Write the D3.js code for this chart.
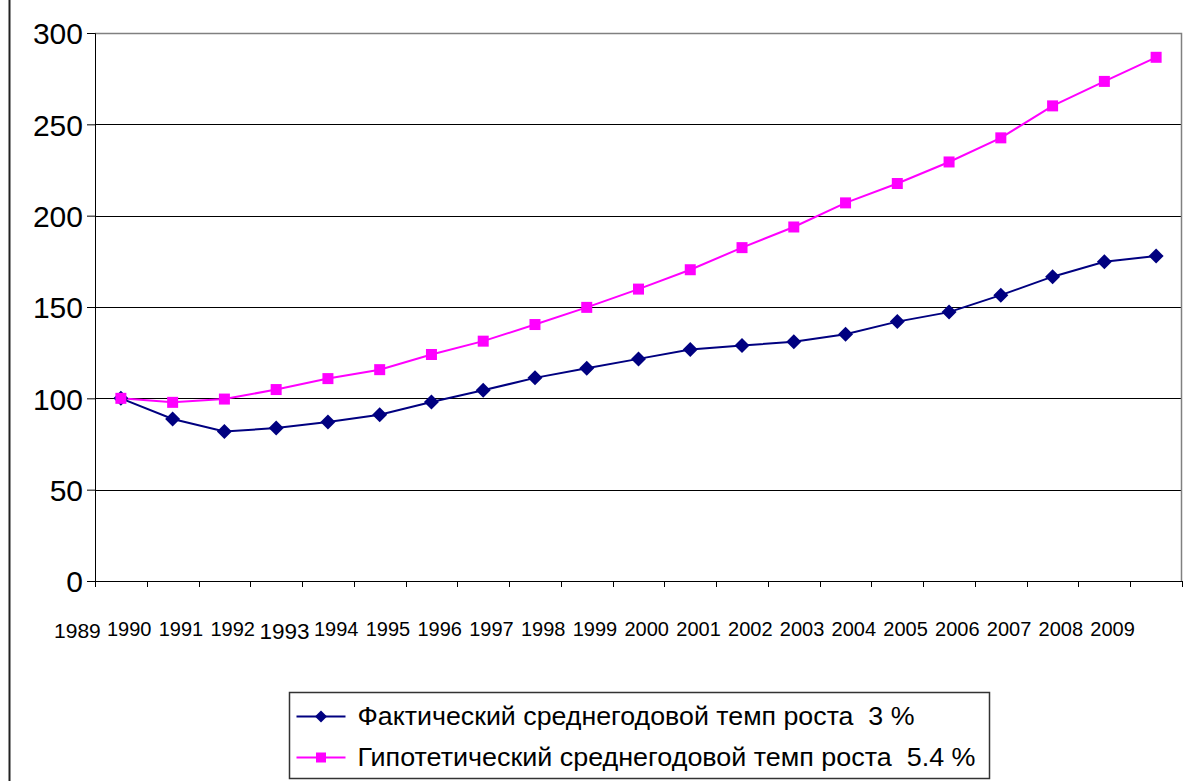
<!DOCTYPE html>
<html>
<head>
<meta charset="utf-8">
<script src="https://cdn.jsdelivr.net/npm/d3@7"></script>
<style>
  body { margin: 0; background: #fff; }
  svg { display: block; font-family: Arial, "Liberation Sans", sans-serif; }
</style>
</head>
<body>
<div id="chart"></div>
<script>
// data
var years = ["1989", "1990", "1991", "1992", "1993", "1994", "1995", "1996", "1997", "1998", "1999",
             "2000", "2001", "2002", "2003", "2004", "2005", "2006", "2007", "2008", "2009"];
var factual = [100, 88.7, 81.9, 83.7, 87, 91, 98, 104.4, 111.2, 116.5, 121.6,
               126.7, 128.9, 131, 135.1, 142, 147.2, 156.5, 166.6, 174.8, 177.9];
var hypothetical = [100, 97.8, 99.6, 104.8, 110.8, 115.7, 124, 131.3, 140.4, 149.8, 159.8,
                    170.4, 182.5, 193.8, 207, 217.6, 229.4, 242.6, 260.1, 273.5, 286.7];
var yTicks = [0, 50, 100, 150, 200, 250, 300];
var seriesNames = ["Фактический среднегодовой темп роста  3 %",
                   "Гипотетический среднегодовой темп роста  5.4 %"];

var svgWidth = 1186, svgHeight = 781;
var margin = { top: 33, left: 95, right: 4, bottom: 200 };
var width = 1182 - margin.left;
var height = 581 - margin.top;

var svg = d3.select("#chart").append("svg")
    .attr("width", svgWidth)
    .attr("height", svgHeight);

// outer chart border
svg.append("rect")
    .attr("x", 9.5).attr("y", -10)
    .attr("width", 1300).attr("height", 1000)
    .attr("fill", "none")
    .attr("stroke", "#222")
    .attr("stroke-width", 2);

var chartGroup = svg.append("g")
    .attr("transform", `translate(${margin.left}, ${margin.top})`);

var x = d3.scaleBand().domain(years).range([0, width]);
var y = d3.scaleLinear().domain([0, 300]).range([height, 0]);

// gridlines
chartGroup.selectAll(".grid")
    .data(yTicks.filter(d => d > 0 && d < 300))
    .enter().append("line")
    .attr("x1", 0).attr("x2", width)
    .attr("y1", d => Math.round(y(d)) + 0.5)
    .attr("y2", d => Math.round(y(d)) + 0.5)
    .attr("stroke", "#000")
    .attr("stroke-width", 1);

// plot border (top / right)
chartGroup.append("path")
    .attr("d", `M0,0.5H${width - 0.5}V${height}`)
    .attr("fill", "none")
    .attr("stroke", "#808080")
    .attr("stroke-width", 1.5);

// y axis
var leftAxis = d3.axisLeft(y).tickValues(yTicks).tickSize(8).tickPadding(4);
var yAxis = chartGroup.append("g").call(leftAxis);
yAxis.select(".domain").attr("stroke", "#000");
yAxis.selectAll("text").attr("font-size", "30px").attr("fill", "#000")
    .attr("font-family", "Arial, 'Liberation Sans', sans-serif")
    .attr("dy", "0.36em");

// x axis: ticks at category boundaries
var boundaries = years.map((d, i) => i).concat([years.length]);
var xAxisG = chartGroup.append("g").attr("transform", `translate(0, ${height})`);
xAxisG.append("line")
    .attr("x1", 0).attr("x2", width)
    .attr("y1", 0.5).attr("y2", 0.5)
    .attr("stroke", "#000");
xAxisG.selectAll(".xtick")
    .data(boundaries)
    .enter().append("line")
    .attr("x1", d => Math.round(d * x.step()) + 0.5)
    .attr("x2", d => Math.round(d * x.step()) + 0.5)
    .attr("y1", 0).attr("y2", 6)
    .attr("stroke", "#000");

// year labels (shifted left as in the original)
xAxisG.selectAll(".xlabel")
    .data(years)
    .enter().append("text")
    .attr("x", d => x(d) + x.bandwidth() / 2 - 43.5)
    .attr("y", d => d === "1989" ? 57 : (d === "1993" ? 58 : 55))
    .attr("text-anchor", "middle")
    .attr("font-size", d => d === "1989" ? "21px" : (d === "1993" ? "22.5px" : "20px"))
    .attr("fill", "#000")
    .text(d => d);

var line = d3.line()
    .x((d, i) => x(years[i]) + x.bandwidth() / 2)
    .y(d => y(d));

// factual series
chartGroup.append("path")
    .datum(factual)
    .attr("d", line)
    .attr("fill", "none")
    .attr("stroke", "#000080")
    .attr("stroke-width", 2);

// hypothetical series
chartGroup.append("path")
    .datum(hypothetical)
    .attr("d", line)
    .attr("fill", "none")
    .attr("stroke", "#ff00ff")
    .attr("stroke-width", 2);

var diamond = "M0,-7.5L7.5,0L0,7.5L-7.5,0Z";

chartGroup.selectAll(".diamond")
    .data(factual)
    .enter().append("path")
    .attr("d", diamond)
    .attr("transform", (d, i) => `translate(${x(years[i]) + x.bandwidth() / 2}, ${y(d)})`)
    .attr("fill", "#000080");

chartGroup.selectAll(".square")
    .data(hypothetical)
    .enter().append("rect")
    .attr("x", (d, i) => x(years[i]) + x.bandwidth() / 2 - 5.5)
    .attr("y", d => y(d) - 5.5)
    .attr("width", 11).attr("height", 11)
    .attr("fill", "#ff00ff");

// legend
var legend = svg.append("g").attr("transform", "translate(289.5, 692.5)");
legend.append("rect")
    .attr("width", 700).attr("height", 86)
    .attr("fill", "#fff")
    .attr("stroke", "#333")
    .attr("stroke-width", 1.5);

var legendItems = legend.selectAll(".item")
    .data(seriesNames)
    .enter().append("g")
    .attr("transform", (d, i) => `translate(0, ${24 + i * 41})`);

legendItems.append("line")
    .attr("x1", 7).attr("x2", 56)
    .attr("y1", 0).attr("y2", 0)
    .attr("stroke", (d, i) => i === 0 ? "#000080" : "#ff00ff")
    .attr("stroke-width", 2);

legendItems.append("path")
    .attr("d", (d, i) => i === 0 ? "M0,-6L6,0L0,6L-6,0Z" : "M-5,-5H5V5H-5Z")
    .attr("transform", "translate(31.5, 0)")
    .attr("fill", (d, i) => i === 0 ? "#000080" : "#ff00ff");

legendItems.append("text")
    .attr("x", 68)
    .attr("y", 8)
    .attr("font-size", "25px")
    .attr("fill", "#000")
    .style("white-space", "pre")
    .attr("textLength", (d, i) => i === 0 ? 557 : 618)
    .attr("lengthAdjust", "spacingAndGlyphs")
    .text(d => d);
</script>
</body>
</html>
